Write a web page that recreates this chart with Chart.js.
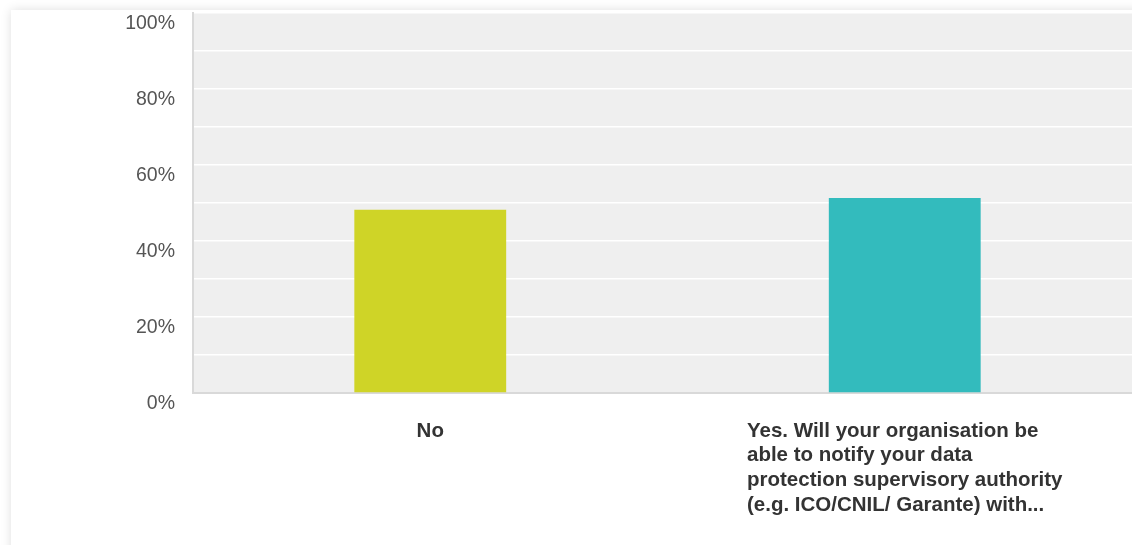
<!DOCTYPE html>
<html>
<head>
<meta charset="utf-8">
<script src="https://cdn.jsdelivr.net/npm/chart.js@4.4.1/dist/chart.umd.min.js"></script>
<style>
  html, body { margin: 0; padding: 0; overflow: hidden; background: #fff; }
  body { width: 1132px; height: 545px; position: relative; }
  #card { position: absolute; left: 11px; top: 10px; width: 1200px; height: 600px; background: #fff;
          box-shadow: 0 0 10px rgba(0,0,0,0.13); }
  #wrap { position: absolute; left: 0; top: 0; width: 1150px; height: 545px; }
</style>
</head>
<body>
<div id="card"></div>
<div id="wrap"><canvas id="myChart"></canvas></div>
<script>
// answer choices and share of respondents (%)
const categories = [
  ["No"],
  ["Yes. Will your organisation be", "able to notify your data", "protection supervisory authority", "(e.g. ICO/CNIL/ Garante) with..."]
];
const values = [48.2, 51.3];
const barColors = ["#cfd427", "#33bbbd"];
const yTicks = [0, 10, 20, 30, 40, 50, 60, 70, 80, 90, 100];
const yTickLabels = ["0%", "", "20%", "", "40%", "", "60%", "", "80%", "", "100%"];

// plot background
const plotBg = {
  id: "plotBg",
  beforeDraw(chart) {
    const a = chart.chartArea;
    const c = chart.ctx;
    c.save();
    c.fillStyle = "#efefef";
    c.fillRect(a.left, a.top, a.right - a.left, a.bottom - a.top);
    c.restore();
  }
};

// category labels: block centred under the bar, lines left aligned
const xLabels = {
  id: "xLabels",
  afterDraw(chart) {
    const c = chart.ctx;
    const x = chart.scales.x;
    const base = chart.chartArea.bottom + 38;
    c.save();
    c.font = "bold 20.5px 'Liberation Sans', Arial, sans-serif";
    c.fillStyle = "#333";
    c.textBaseline = "middle";
    c.textAlign = "left";
    categories.forEach((lines, i) => {
      const w = Math.max(...lines.map(l => c.measureText(l).width));
      const x0 = x.getPixelForValue(i) - w / 2;
      lines.forEach((l, j) => c.fillText(l, x0, base + j * 24.7));
    });
    c.restore();
  }
};

Chart.defaults.font.family = "'Liberation Sans', Arial, sans-serif";
var ctx = document.getElementById("myChart").getContext("2d");
var myChart = new Chart(ctx, {
  type: "bar",
  data: {
    labels: categories.map(l => l.join(" ")),
    datasets: [{
      data: values,
      backgroundColor: barColors,
      borderWidth: 0,
      barPercentage: 0.32,
      categoryPercentage: 1
    }]
  },
  options: {
    responsive: true,
    maintainAspectRatio: false,
    animation: false,
    layout: { padding: { top: 13, right: 8, left: 0, bottom: 0 } },
    plugins: { legend: { display: false }, tooltip: { enabled: false } },
    scales: {
      y: {
        min: 0,
        max: 100,
        afterFit: s => { s.width = 193; s.paddingTop = 0; s.paddingBottom = 0; },
        afterBuildTicks: s => { s.ticks = yTicks.map(v => ({ value: v })); },
        ticks: {
          callback: (v) => yTickLabels[yTicks.indexOf(v)],
          color: "#555",
          font: { size: 19.5 },
          padding: 18,
          labelOffset: 10.5,
          autoSkip: false
        },
        grid: { color: "#ffffff", lineWidth: 1.5, drawTicks: false },
        border: { color: "#d9d9d9", width: 2 }
      },
      x: {
        afterFit: s => { s.height = 152; s.paddingLeft = 0; s.paddingRight = 0; },
        ticks: { display: false },
        grid: { display: false, drawTicks: false },
        border: { color: "#d9d9d9", width: 2 }
      }
    }
  },
  plugins: [plotBg, xLabels]
});
</script>
</body>
</html>
